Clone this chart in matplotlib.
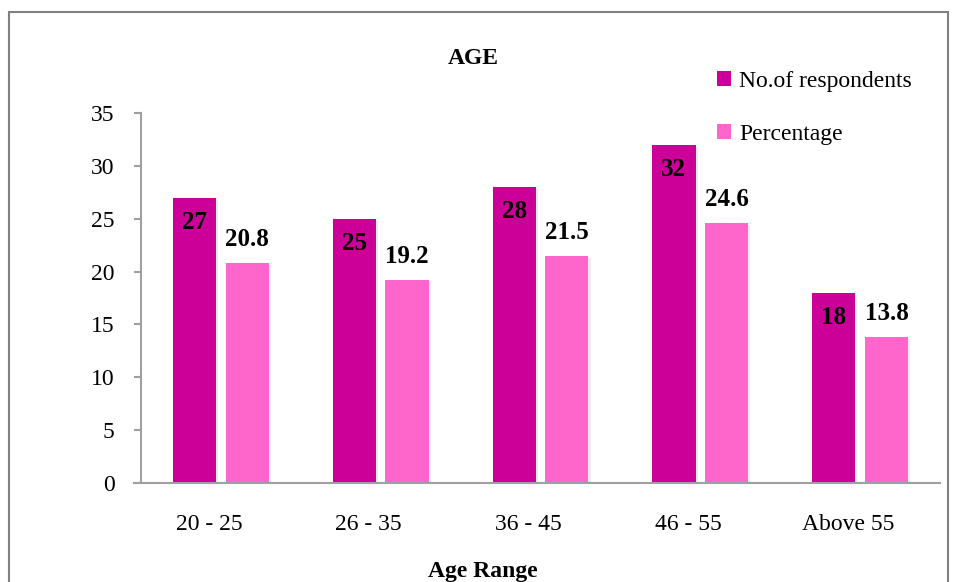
import matplotlib.pyplot as plt
import matplotlib.patheffects as pe
import matplotlib.transforms as mtransforms
import numpy as np

plt.rcParams['font.family'] = ['Liberation Serif', 'DejaVu Serif']

# данные по возрасту
age_groups = ['20 - 25', '26 - 35', '36 - 45', '46 - 55', 'Above 55']
respondents = [27, 25, 28, 32, 18]
percentage = [20.8, 19.2, 21.5, 24.6, 13.8]

dark = '#CC0099'
light = '#FF66CC'
grey = '#A0A0A0'

fig = plt.figure(figsize=(9.54, 5.82), dpi=100)
ax = fig.add_axes([141 / 954, 1 - 483 / 582, 799 / 954, 370 / 582])

x = np.arange(len(age_groups))
w = 0.27
shadow = [pe.SimplePatchShadow(offset=(1.5, -1.5), shadow_rgbFace='#D8D8D8', alpha=0.5), pe.Normal()]
b1 = ax.bar(x - 0.165, respondents, w, color=dark, label='No.of respondents', path_effects=shadow)
b2 = ax.bar(x + 0.165, percentage, w, color=light, label='Percentage', path_effects=shadow)

# подписи значений
for rect, v in zip(b1, respondents):
    ax.annotate(str(v), (rect.get_x() + rect.get_width() / 2, v), xytext=(0, -18),
                textcoords='offset points', ha='center', va='center',
                fontsize=18, fontweight='bold')
for rect, v in zip(b2, percentage):
    ax.annotate(str(v), (rect.get_x() + rect.get_width() / 2, v), xytext=(0, 17),
                textcoords='offset points', ha='center', va='center',
                fontsize=18, fontweight='bold')

ax.set_xlim(-0.5, len(age_groups) - 0.5)
ax.set_ylim(0, 35)
ax.set_yticks(range(0, 36, 5))
ax.set_xticks(x)
ax.set_xticklabels(age_groups)
ax.tick_params(axis='x', length=0, pad=22, labelsize=17)
ax.tick_params(axis='y', length=5, color=grey, width=1.5, labelsize=17, pad=14)

# подписи категорий чуть левее центра группы
shift = mtransforms.ScaledTranslation(-12 / 100, 0, fig.dpi_scale_trans)
for lbl in ax.get_xticklabels():
    lbl.set_transform(lbl.get_transform() + shift)

for s in ['top', 'right']:
    ax.spines[s].set_visible(False)
ax.spines['left'].set_color(grey)
ax.spines['bottom'].set_color(grey)
ax.spines['left'].set_linewidth(1.5)
ax.spines['bottom'].set_linewidth(1.5)
ax.spines['bottom'].set_bounds(-0.545, len(age_groups) - 0.5)

fig.text(473 / 954, 1 - 58 / 582, 'AGE', ha='center', va='center', fontsize=17, fontweight='bold')
fig.text(483 / 954, 1 - 571 / 582, 'Age Range', ha='center', va='center', fontsize=17, fontweight='bold')

leg = ax.legend(loc='upper left', bbox_to_anchor=(705 / 954, 1 - 59 / 582), bbox_transform=fig.transFigure,
                frameon=False, fontsize=17, handlelength=0.6, handleheight=0.6, handletextpad=0.35,
                labelspacing=1.35, borderpad=0)
for h in leg.legend_handles:
    h.set_path_effects([])

# рамка вокруг рисунка
fig.patches.append(plt.Rectangle((9 / 954, -0.05), 939 / 954, 1 - 12 / 582 + 0.05,
                                 transform=fig.transFigure, fill=False, edgecolor='#808080', linewidth=1.5))

plt.savefig('out.png', dpi=100)
